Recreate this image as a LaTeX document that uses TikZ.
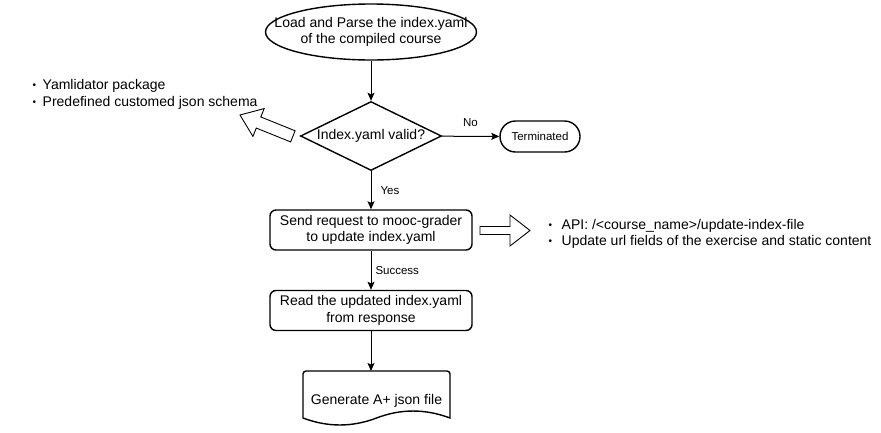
\documentclass[tikz,border=0pt]{standalone}
\usepackage{fontspec}
\setmainfont{Liberation Sans}
\usetikzlibrary{shapes.geometric,shapes.misc,arrows.meta}
\newcommand{\blt}[1]{\makebox[#1][l]{\fontsize{10}{10}\selectfont\raisebox{0.5pt}{•}}}
\begin{document}
\begin{tikzpicture}[x=1pt,y=-1pt,line width=1.4pt,
   txt/.style={font=\fontsize{14}{16.5}\selectfont,align=center,inner sep=0pt},
   small/.style={font=\fontsize{11.5}{13}\selectfont,inner sep=0pt},
   flow/.style={line width=1pt,-{Stealth[length=8pt,width=7pt,inset=1.5pt]}},
   process/.style={txt,draw,rounded corners=6pt,minimum width=202pt,minimum height=40pt},
   hollow/.style={line width=0.9pt,fill=white}]
   \useasboundingbox (0,0) rectangle (881,432);
   \node[draw,ellipse,minimum width=211pt,minimum height=56pt] (load) at (371,32) {};
   \node[txt] (loadtext) at (load) {Load and Parse the index.yaml\\of the compiled course};
   \node[txt,draw,diamond,aspect=2,minimum width=141pt,minimum height=69pt] (valid) at (371,136) {Index.yaml valid?};
   \node[small,draw,rounded rectangle,minimum width=80pt,minimum height=31pt] (term) at (540,136.5) {Terminated};
   \node[process] (request) at (371,230) {Send request to mooc-grader\\to update index.yaml};
   \node[process] (read) at (371,310.5) {Read the updated index.yaml\\from response};
   \node[txt,minimum width=147pt,minimum height=47pt,anchor=north] (gen) at (376.5,371) {};
   \node[txt] (gentext) at (376.5,401) {Generate A+ json file};
   % document outline with wavy bottom
   \draw (303,418) [rounded corners=3pt] -- (303,371) -- (450,371) [sharp corners] -- (450,418)
      .. controls (425.3,408.7) and (400.8,408.7) .. (376.5,418)
      .. controls (352.2,427.3) and (327.7,427.3) .. (303,418) -- cycle;
   \draw[flow] (load) -- (valid);
   \draw[flow] (valid) -- node[small,above=9pt] {No} (term);
   \draw[flow] (valid) -- node[small,right=9pt] {Yes} (request);
   \draw[flow] (request) -- node[small,right=4pt] {Success} (read);
   \draw[flow] (read) -- (read.south |- gen.north);
   % hollow arrows
   \begin{scope}[shift={(240,115)},rotate=158]
      \draw[hollow] (0,0) -- (-20,15) -- (-20,6) -- (-57,6) -- (-57,-6) -- (-20,-6) -- (-20,-15) -- cycle;
   \end{scope}
   \draw[hollow] (530,230.5) -- (510,215) -- (510,226.5) -- (480,226.5) -- (480,234.5) -- (510,234.5) -- (510,246) -- cycle;
   \node[txt,anchor=base west] (schema1) at (32,89) {\blt{10pt}Yamlidator package};
   \node[txt,anchor=base west] (schema2) at (32,106) {\blt{10pt}Predefined customed json schema};
   \node[txt,anchor=base west] (api1) at (548,229) {\blt{13pt}API: /<course\_name>/update-index-file};
   \node[txt,anchor=base west] (api2) at (548,245) {\blt{13pt}Update url fields of the exercise and static content};
\end{tikzpicture}
\end{document}
